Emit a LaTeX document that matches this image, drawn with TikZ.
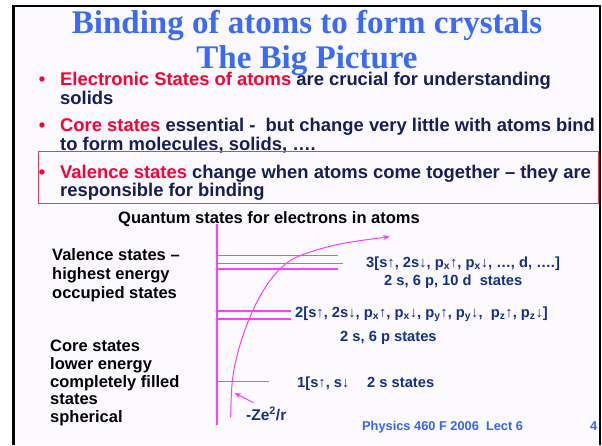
\documentclass[tikz,border=0pt]{standalone}
\usepackage{fontspec}
\setmainfont{Liberation Sans}
\newfontfamily\titlefont{Liberation Serif}
\usetikzlibrary{arrows.meta}
\definecolor{titleblue}{HTML}{3B6BF5}
\definecolor{navy}{HTML}{141E5A}
\definecolor{labelblue}{HTML}{14308F}
\definecolor{footblue}{HTML}{3366FF}
\definecolor{bulletred}{HTML}{FF0033}
\definecolor{boxred}{HTML}{FF3355}
\definecolor{mag}{HTML}{FF3DFF}
\definecolor{slidebg}{HTML}{FCFAFF}
\tikzset{
  titletext/.style={font=\titlefont\bfseries\fontsize{33}{33}\selectfont, text=titleblue, anchor=base, inner sep=0pt},
  body/.style={font=\bfseries\fontsize{18.4}{18.4}\selectfont, text=navy, anchor=base west, inner sep=0pt},
  bul/.style={font=\bfseries\fontsize{18.4}{18.4}\selectfont, text=bulletred, anchor=base, inner sep=0pt},
  side/.style={font=\bfseries\fontsize{16.5}{16.5}\selectfont, text=black, anchor=base west, inner sep=0pt},
  lvl/.style={font=\bfseries\fontsize{14.7}{14.7}\selectfont, text=labelblue, anchor=base west, inner sep=0pt},
  level/.style={draw=mag, line width=1.1pt},
  foot/.style={font=\bfseries\fontsize{12.8}{12.8}\selectfont, text=footblue, anchor=base west, inner sep=0pt},
  magarrow/.style={draw=mag, line width=1pt, -{Stealth[length=7pt,width=5pt]}},
}
\begin{document}
\begin{tikzpicture}[x=1pt,y=-1pt]
\useasboundingbox (0,0) rectangle (602,445);
\fill[white] (0,0) rectangle (602,445);
\fill[slidebg] (13.5,6) rectangle (600,445);
\draw[black, line width=3pt] (13.5,5) -- (13.5,445);
\draw[black, line width=2.3pt] (12,6) -- (601,6);
\draw[black, line width=1.5pt] (600,5) -- (600,445);

% title
\node[titletext] (t1) at (307,33.5) {Binding of atoms to form crystals};
\node[titletext] (t2) at (307,68) {The Big Picture};

% bullets
\node[bul] (b1) at (42,85.5) {•};
\node[body] (l1) at (60,85.5) {\textcolor{bulletred}{Electronic States of atoms} are crucial for understanding};
\node[body] (l2) at (60,104.5) {solids};
\node[bul] (b2) at (42,131) {•};
\node[body] (l3) at (60,131) {\textcolor{bulletred}{Core states} essential -\ \ but change very little with atoms bind};
\node[body] (l4) at (60,150.5) {to form molecules, solids, ….};
\node[draw=boxred, line width=0.9pt, anchor=north west, minimum width=560pt, minimum height=52pt, inner sep=0pt] (vbox) at (38,150.7) {};
\node[bul] (b3) at (42,178.3) {•};
\node[body] (l5) at (60,178.3) {\textcolor{bulletred}{Valence states} change when atoms come together – they are};
\node[body] (l6) at (60,196.8) {responsible for binding};

% diagram title
\node[side] (qs) at (118,223.5) {Quantum states for electrons in atoms};

% left labels
\node[side] (v1) at (52,260.5) {Valence states –};
\node[side] (v2) at (52,279) {highest energy};
\node[side] (v3) at (52,298) {occupied states};
\node[side] (c1) at (50,351) {Core states};
\node[side] (c2) at (50,369) {lower energy};
\node[side] (c3) at (50,387) {completely filled};
\node[side] (c4) at (50,404) {states};
\node[side] (c5) at (50,422) {spherical};

% axis and levels
\coordinate (axtop) at (217,224);
\coordinate (axbot) at (217,425);
\draw[draw=mag, line width=1.1pt] (axtop) -- (axbot);
\draw[level] (217,255.5) -- (338,255.5);
\draw[level] (217,263.5) -- (343,263.5);
\draw[level] (217,269) -- (338,269);
\draw[level] (217,311) -- (291,311);
\draw[level] (217,319) -- (291,319);
\draw[level] (217,381.3) -- (269.3,381.3);

% potential curve
\draw[magarrow] plot[smooth, tension=0.6] coordinates {(230.7,417.3) (232.3,381.3) (238.5,350) (249.3,318.7) (263,291) (280,269) (300,255.7) (340,244) (390,236.7)};

% level labels
\node[lvl] (n3a) at (366,267.5) {3[s↑, 2s↓, p\textsubscript{x}↑, p\textsubscript{x}↓, …, d, ….]};
\node[lvl] (n3b) at (384,285) {2 s, 6 p, 10 d\ \ states};
\node[lvl] (n2a) at (295,317.5) {2[s↑, 2s↓, p\textsubscript{x}↑, p\textsubscript{x}↓, p\textsubscript{y}↑, p\textsubscript{y}↓,\ \ p\textsubscript{z}↑, p\textsubscript{z}↓]};
\node[lvl] (n2b) at (340,341) {2 s, 6 p states};
\node[lvl] (n1a) at (297,387) {1[s↑, s↓};
\node[lvl] (n1b) at (367,387) {2 s states};

% -Ze^2/r label and arrow
\node[lvl, font=\bfseries\fontsize{15.5}{15.5}\selectfont] (ze) at (246,420) {-Ze\textsuperscript{2}/r};
\coordinate (zestart) at (253.3,402.7);
\coordinate (zetip) at (234.3,392.7);
\draw[magarrow] (zestart) -- (zetip);

% footer
\node[foot] (ft) at (362,430.7) {Physics 460 F 2006\ \ Lect 6};
\node[foot] (pg) at (590,430.7) {4};
\end{tikzpicture}
\end{document}
